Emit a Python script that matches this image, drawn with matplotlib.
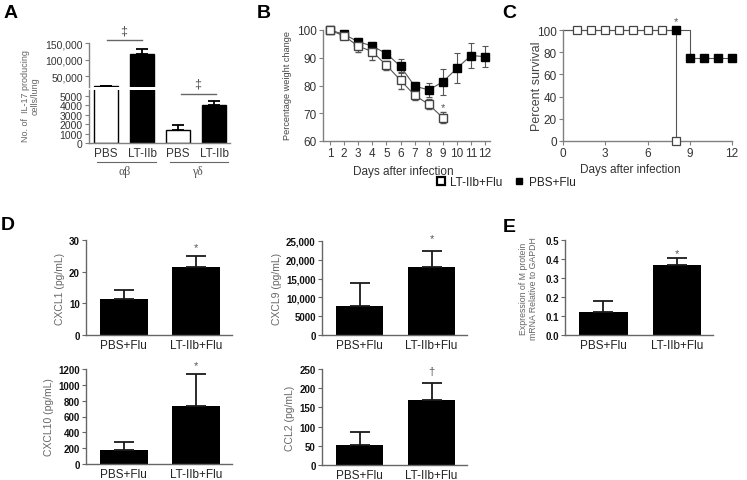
import numpy as np
import matplotlib.pyplot as plt
from matplotlib.lines import Line2D
from matplotlib.transforms import blended_transform_factory

plt.rcParams['font.family'] = ['Liberation Sans', 'DejaVu Sans']

# ---- data ----
# A: IL-17 producing cells / lung
a_labels = ['PBS', 'LT-IIb', 'PBS', 'LT-IIb']
a_vals = [20000, 118000, 1400, 4000]
a_err = [1200, 14000, 550, 500]
a_colors = ['white', 'black', 'white', 'black']

# B: weight change
lt_days = np.arange(1, 10)
lt_weight = [100, 97.8, 94.2, 92.2, 87.3, 81.9, 76.5, 73.2, 68.4]
lt_weight_err = [0.3, 1.2, 2.0, 3.0, 1.7, 3.0, 1.7, 1.8, 1.9]
pbs_days = np.arange(1, 13)
pbs_weight = [100, 98.4, 95.8, 94.2, 91.5, 86.9, 79.8, 78.4, 81.3, 86.2, 90.8, 90.4]
pbs_weight_err = [0.3, 1.0, 1.3, 1.5, 1.3, 2.5, 1.5, 2.6, 4.7, 5.4, 4.6, 3.9]

# C: survival
lt_surv_t = [0, 8]
lt_surv_p = [100, 0]
pbs_surv_t = [0, 9, 12]
pbs_surv_p = [100, 75, 75]
lt_mark_days = [1, 2, 3, 4, 5, 6, 7, 8]
lt_mark_vals = [100, 100, 100, 100, 100, 100, 100, 0]
pbs_mark_days = [8, 9, 10, 11, 12]
pbs_mark_vals = [100, 75, 75, 75, 75]

# D / E
groups = ['PBS+Flu', 'LT-IIb+Flu']
cxcl1 = [11.5, 21.6]
cxcl1_err = [2.7, 3.2]
cxcl9 = [7800, 18000]
cxcl9_err = [6000, 4300]
cxcl10 = [181, 730]
cxcl10_err = [100, 410]
ccl2 = [51, 169]
ccl2_err = [34, 45]
mprot = [0.123, 0.367]
mprot_err = [0.054, 0.037]

W, H = 747, 481
fig = plt.figure(figsize=(W / 100, H / 100), dpi=100)


def box(x0, y0, x1, y1):
    return [x0 / W, 1 - y1 / H, (x1 - x0) / W, (y1 - y0) / H]


def style(ax, col='#808080', lab='#333333'):
    for s in ['top', 'right']:
        ax.spines[s].set_visible(False)
    for s in ['left', 'bottom']:
        ax.spines[s].set_color(col)
        ax.spines[s].set_linewidth(1.0)
    ax.tick_params(colors=col, labelcolor=lab, length=3, width=0.8, pad=1.5)


# ---- panel A (broken axis) ----
axA1 = fig.add_axes(box(89, 44, 230, 88))
axA2 = fig.add_axes(box(89, 91, 230, 144))
xa = np.arange(len(a_vals))
for ax in (axA1, axA2):
    ax.bar(xa, a_vals, width=0.66, color=a_colors, edgecolor='black', linewidth=1.0)
    ax.errorbar(xa, a_vals, yerr=[[0] * 4, a_err], fmt='none', ecolor='black',
                elinewidth=1.3, capsize=4, capthick=1.3)
    ax.set_xlim(-0.47, 3.44)
    style(ax)
axA1.set_ylim(18000, 150000)
axA1.set_yticks([50000, 100000, 150000])
axA1.set_yticklabels([f'{v:,}' for v in [50000, 100000, 150000]], fontsize=7.5)
axA1.spines['bottom'].set_visible(False)
axA1.set_xticks([])
axA2.set_ylim(0, 5640)
axA2.set_yticks(range(0, 6000, 1000))
axA2.set_yticklabels([str(v) for v in range(0, 6000, 1000)], fontsize=7.5)
axA2.set_xticks(xa)
axA2.set_xticklabels(a_labels, fontsize=8.5)
axA2.tick_params(axis='x', length=0, pad=3)

axA1.plot([0.03, 1.0], [159000, 159000], color='#666666', lw=1, clip_on=False)
axA1.text(0.5, 187000, '\u2021', ha='center', va='center', fontsize=9, color='#555555', clip_on=False)
axA2.plot([2.08, 3.05], [5210, 5210], color='#666666', lw=1, clip_on=False)
axA2.text(2.55, 6350, '\u2021', ha='center', va='center', fontsize=9, color='#555555', clip_on=False)

tr = blended_transform_factory(axA2.transData, fig.transFigure)
axA2.plot([-0.25, 1.4], [1 - 163 / H] * 2, transform=tr, color='#666666', lw=0.8, clip_on=False)
axA2.plot([1.78, 3.39], [1 - 163 / H] * 2, transform=tr, color='#666666', lw=0.8, clip_on=False)
axA2.text(0.53, 1 - 172 / H, '\u03b1\u03b2', transform=tr, ha='center', va='center',
          fontsize=8.5, color='#555555', family='Liberation Serif')
axA2.text(2.53, 1 - 172 / H, '\u03b3\u03b4', transform=tr, ha='center', va='center',
          fontsize=8.5, color='#555555', family='Liberation Serif')
fig.text(30 / W, 1 - 96 / H, 'No. of  IL-17 producing\ncells/lung', rotation=90,
         ha='center', va='center', fontsize=6.5, color='#666666', linespacing=1.1)

# ---- panel B ----
axB = fig.add_axes(box(323, 31, 490, 142))
axB.errorbar(pbs_days, pbs_weight, yerr=pbs_weight_err, fmt='-s', color='#555555', lw=0.8,
             mfc='black', mec='black', ms=6, elinewidth=0.8, capsize=2.5, capthick=0.8, clip_on=False)
axB.errorbar(lt_days, lt_weight, yerr=lt_weight_err, fmt='-s', color='#555555', lw=0.8,
             mfc='white', mec='#444444', mew=1.0, ms=6, elinewidth=0.8, capsize=2.5, capthick=0.8,
             clip_on=False)
axB.set_xlim(0.5, 12.35)
axB.set_ylim(60, 100)
axB.set_xticks(pbs_days)
axB.set_xticklabels([str(d) for d in pbs_days], fontsize=8.5)
axB.set_yticks(range(60, 101, 10))
axB.set_yticklabels([str(v) for v in range(60, 101, 10)], fontsize=8.5)
style(axB)
axB.text(9, 72.3, '*', ha='center', va='center', fontsize=8, color='#555555')
fig.text(288 / W, 1 - 86 / H, 'Percentage weight change', rotation=90, ha='center',
         va='center', fontsize=6.6, color='#444444')
fig.text(403 / W, 1 - 172 / H, 'Days after infection', ha='center', va='center',
         fontsize=8.5, color='#333333')

# ---- panel C ----
axC = fig.add_axes(box(563, 31, 732, 142))
axC.step(lt_surv_t, lt_surv_p, where='post', color='#555555', lw=0.8, clip_on=False)
axC.step(pbs_surv_t, pbs_surv_p, where='post', color='#555555', lw=0.8, clip_on=False)
axC.plot(lt_mark_days, lt_mark_vals, 's', mfc='white', mec='#444444', mew=0.9, ms=5.5,
         clip_on=False, zorder=3)
axC.plot(pbs_mark_days, pbs_mark_vals, 's', color='black', ms=5.5, clip_on=False, zorder=4)
axC.set_xlim(0, 12)
axC.set_ylim(0, 100)
axC.set_xticks([0, 3, 6, 9, 12])
axC.set_xticklabels(['0', '3', '6', '9', '12'], fontsize=8.5)
axC.set_yticks(range(0, 101, 20))
axC.set_yticklabels([str(v) for v in range(0, 101, 20)], fontsize=8.5)
style(axC)
axC.text(8, 108, '*', ha='center', va='center', fontsize=8, color='#555555', clip_on=False)
fig.text(537 / W, 1 - 86 / H, 'Percent survival', rotation=90, ha='center', va='center',
         fontsize=9, color='#444444')
fig.text(630 / W, 1 - 170 / H, 'Days after infection', ha='center', va='center',
         fontsize=8.5, color='#333333')

handles = [Line2D([], [], marker='s', ls='none', mfc='white', mec='black', mew=1.6, ms=6),
           Line2D([], [], marker='s', ls='none', mfc='black', mec='black', ms=5)]
fig.legend(handles, ['LT-IIb+Flu', 'PBS+Flu'], loc='center', bbox_to_anchor=(506 / W, 1 - 183 / H),
           ncol=2, frameon=False, fontsize=8.5, handlelength=0.8, handletextpad=0.4,
           columnspacing=1.0, labelcolor='#222222')


# ---- panels D and E ----
def bar_panel(rect, vals, errs, ymax, ticks, ticklabels, ylabel, mark, mark_y,
              ylfs=7.5, labelpad=3):
    ax = fig.add_axes(rect)
    x = np.arange(len(vals))
    ax.bar(x, vals, width=0.66, color='black')
    ax.errorbar(x, vals, yerr=[[0] * len(vals), errs], fmt='none', ecolor='#1a1a1a',
                elinewidth=1.3, capsize=7, capthick=1.3)
    ax.set_xlim(-0.52, 1.49)
    ax.set_ylim(0, ymax)
    ax.set_yticks(ticks)
    ax.set_yticklabels(ticklabels, fontsize=7, fontweight='bold')
    ax.set_xticks(x)
    ax.set_xticklabels(groups, fontsize=8.5)
    style(ax, col='#666666', lab='#111111')
    ax.tick_params(axis='x', length=0, pad=3, labelcolor='#222222')
    ax.set_ylabel(ylabel, fontsize=ylfs, color='#666666', labelpad=labelpad)
    ax.text(1, mark_y, mark, ha='center', va='center', fontsize=8, color='#555555', clip_on=False)
    return ax


bar_panel(box(86, 241, 232, 336), cxcl1, cxcl1_err, 30, [0, 10, 20, 30],
          ['0', '10', '20', '30'], 'CXCL1 (pg/mL)', '*', 27.7)
bar_panel(box(86, 370, 232, 465), cxcl10, cxcl10_err, 1200, range(0, 1201, 200),
          [str(v) for v in range(0, 1201, 200)], 'CXCL10 (pg/mL)', '*', 1245)
bar_panel(box(322, 242, 467, 336), cxcl9, cxcl9_err, 25000, range(0, 25001, 5000),
          ['0', '5000', '10,000', '15,000', '20,000', '25,000'], 'CXCL9 (pg/mL)', '*', 25700)
bar_panel(box(322, 370, 467, 466), ccl2, ccl2_err, 250, range(0, 251, 50),
          [str(v) for v in range(0, 251, 50)], 'CCL2 (pg/mL)', '\u2020', 246)
bar_panel(box(565, 241, 713, 336), mprot, mprot_err, 0.5, [0, 0.1, 0.2, 0.3, 0.4, 0.5],
          ['0.0', '0.1', '0.2', '0.3', '0.4', '0.5'],
          'Expression of M protein\nmRNA Relative to GAPDH', '*', 0.43, ylfs=6.3, labelpad=5)

# panel letters
for lx, ly, letter in [(4, 18, 'A'), (257, 18, 'B'), (502, 18, 'C'), (1, 230, 'D'), (503, 232, 'E')]:
    fig.text(lx / W, 1 - ly / H, letter, fontsize=14, fontweight='bold', va='baseline', ha='left')

fig.savefig('out.png', dpi=100)
